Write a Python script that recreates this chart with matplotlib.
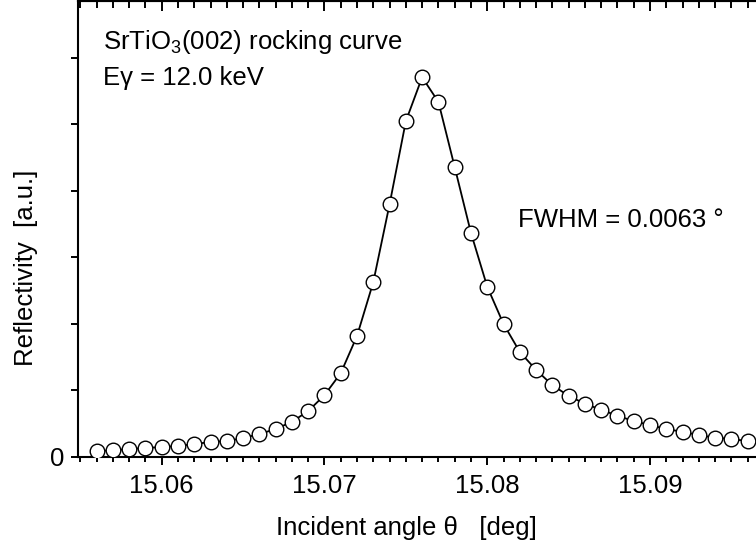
import numpy as np
import matplotlib
matplotlib.use('Agg')
import matplotlib.pyplot as plt
from matplotlib.ticker import MultipleLocator, FuncFormatter

plt.rcParams['font.family'] = ['Liberation Sans', 'DejaVu Sans']
plt.rcParams['mathtext.fontset'] = 'custom'
plt.rcParams['mathtext.rm'] = 'Liberation Sans'
plt.rcParams['mathtext.it'] = 'Liberation Sans'

# rocking curve data (arbitrary units)
theta = [15.056, 15.057, 15.058, 15.059, 15.060, 15.061, 15.062, 15.063,
         15.064, 15.065, 15.066, 15.067, 15.068, 15.069, 15.070, 15.071,
         15.072, 15.073, 15.074, 15.075, 15.076, 15.077, 15.078, 15.079,
         15.080, 15.081, 15.082, 15.083, 15.084, 15.085, 15.086, 15.087,
         15.088, 15.089, 15.090, 15.091, 15.092, 15.093, 15.094, 15.095,
         15.096]
refl = [0.09, 0.10, 0.12, 0.135, 0.15, 0.165, 0.195, 0.225,
        0.24, 0.285, 0.345, 0.42, 0.53, 0.69, 0.93, 1.26,
        1.82, 2.63, 3.80, 5.05, 5.71, 5.34, 4.36, 3.37,
        2.56, 2.00, 1.58, 1.31, 1.08, 0.92, 0.80, 0.71,
        0.62, 0.54, 0.48, 0.42, 0.38, 0.33, 0.29, 0.27,
        0.24]

fig = plt.figure(figsize=(7.56, 5.48), dpi=100)
ax = fig.add_axes([78/756, 91/548, 678/756, 456/548])

ax.plot(theta, refl, '-', color='black', lw=1.3, zorder=2)
ax.plot(theta, refl, 'o', ms=10.5, mfc='white', mec='black', mew=1.0, zorder=3)

ax.set_xlim(15.05486, 15.09651)
ax.set_ylim(0, 6.857)

ax.xaxis.set_major_locator(MultipleLocator(0.01))
ax.xaxis.set_minor_locator(MultipleLocator(0.001))
ax.xaxis.set_major_formatter(FuncFormatter(lambda v, p: f'{v:.2f}'))
ax.yaxis.set_major_locator(MultipleLocator(1))
ax.yaxis.set_major_formatter(FuncFormatter(lambda v, p: '0' if abs(v) < 1e-9 else ''))

ax.tick_params(axis='x', which='major', direction='out', length=6, width=1.4,
               labelsize=18.5, pad=6)
ax.tick_params(axis='x', which='minor', direction='out', length=3.5, width=1.4)
ax.tick_params(axis='y', which='major', direction='out', length=5, width=1.4,
               labelsize=18.5, pad=5)

for s in ['left', 'bottom', 'top']:
    ax.spines[s].set_linewidth(1.5)
ax.spines['right'].set_visible(False)

# inward ticks along the top edge
top = ax.secondary_xaxis('top')
top.xaxis.set_major_locator(MultipleLocator(0.01))
top.xaxis.set_minor_locator(MultipleLocator(0.001))
top.tick_params(axis='x', which='major', direction='in', length=7, width=1.4,
                labeltop=False)
top.tick_params(axis='x', which='minor', direction='in', length=5, width=1.4)
top.spines['top'].set_linewidth(1.5)

ax.set_xlabel('Incident angle θ   [deg]', fontsize=18.5)
ax.xaxis.set_label_coords(0.484, -0.156)
ax.xaxis.label.set_va('center')
ax.set_ylabel('Reflectivity  [a.u.]', fontsize=18.5)
ax.yaxis.set_label_coords(-0.077, 0.414)
ax.yaxis.label.set_va('center')

ax.text(0.037, 0.895, 'SrTiO$_3$(002) rocking curve', transform=ax.transAxes,
        fontsize=18.5, va='baseline', ha='left')
ax.text(0.037, 0.816, 'Eγ = 12.0 keV', transform=ax.transAxes,
        fontsize=18.5, va='baseline', ha='left')
ax.text(0.649, 0.504, 'FWHM = 0.0063 °', transform=ax.transAxes,
        fontsize=18.5, va='baseline', ha='left')

fig.savefig('out.png', dpi=100)
